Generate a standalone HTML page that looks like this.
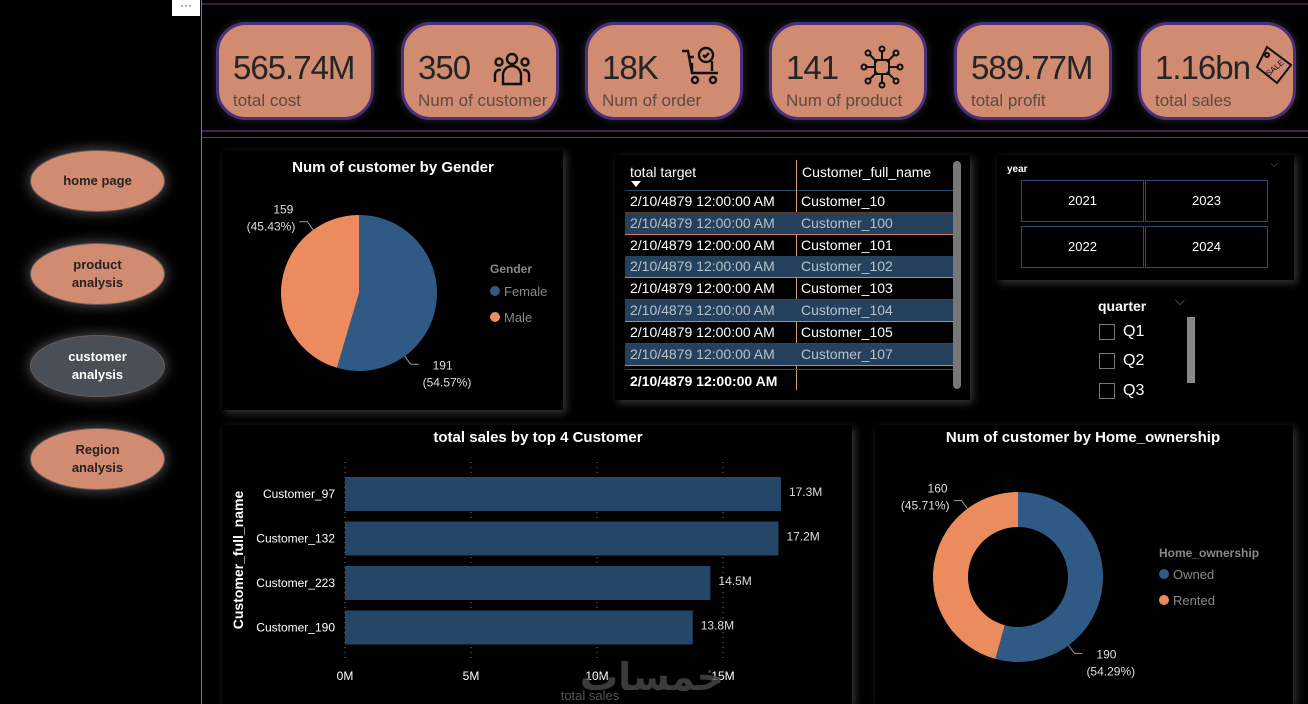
<!DOCTYPE html>
<html><head><meta charset="utf-8"><style>
body{margin:0;width:1308px;height:704px;background:#000;overflow:hidden;position:relative;font-family:"Liberation Sans",sans-serif;color:#fff}
.a{position:absolute}
.card{position:absolute;top:22px;width:152px;height:92px;background:#d08b71;border:3px solid #4a2f7a;border-radius:30px;box-shadow:0 0 8px rgba(120,120,140,.35)}
.card .v{position:absolute;left:14px;top:24px;font-size:33px;color:#252525;letter-spacing:-1px}
.card .l{position:absolute;left:14px;top:66px;font-size:17px;color:#5a4a44;white-space:nowrap}
.card svg{position:absolute}
.nav{position:absolute;left:30px;width:133px;height:60px;border-radius:50%;background:#d08b71;border:1px solid #6b5a55;box-shadow:0 0 14px rgba(200,200,210,.45);display:flex;align-items:center;justify-content:center;text-align:center;font-weight:bold;font-size:13px;color:#2a2020;line-height:18px}
.panel{position:absolute;background:#000;box-shadow:3px 3px 8px rgba(90,90,90,.6)}
.row{position:absolute;left:625px;width:328px;height:21px;font-size:14px;line-height:21px}
.row span{position:absolute}
.yb{position:absolute;width:121px;height:40px;border:1px solid #2c4a6b;font-size:13px;text-align:center;line-height:40px}
.cb{position:absolute;left:1099px;width:14px;height:14px;border:1px solid #777}
.q{position:absolute;left:1123px;font-size:16px}
</style></head><body>
<div class="a" style="left:172px;top:0;width:28px;height:16px;background:#fff;color:#333;font-size:12px;text-align:center;line-height:10px">···</div>
<div class="a" style="left:201px;top:0;width:1px;height:704px;background:#5d7fa8"></div>
<div class="a" style="left:202px;top:3px;width:1106px;height:2px;background:#3a1b4a"></div>
<div class="a" style="left:202px;top:130px;width:1106px;height:2px;background:#4a1b5a"></div>
<div class="a" style="left:202px;top:137px;width:1106px;height:1px;background:#2b4a6a"></div>

<div class="card" style="left:216px"><div class="v">565.74M</div><div class="l">total cost</div></div>
<div class="card" style="left:401px"><div class="v">350</div><div class="l">Num of customer</div>
<svg style="left:88px;top:26px" width="40" height="36" viewBox="0 0 40 36" fill="none" stroke="#111" stroke-width="2.4"><circle cx="20" cy="8" r="5"/><circle cx="7" cy="11" r="3.5"/><circle cx="33" cy="11" r="3.5"/><path d="M11 33V24a9 9 0 0 1 18 0v9z"/><path d="M3 31v-8a5 5 0 0 1 6-4M37 31v-8a5 5 0 0 0-6-4"/></svg></div>
<div class="card" style="left:585px"><div class="v">18K</div><div class="l">Num of order</div>
<svg style="left:92px;top:20px" width="42" height="42" viewBox="0 0 42 42" fill="none" stroke="#111" stroke-width="2.4"><path d="M2 6h6l4 22h26"/><path d="M10 12h4M12 18v10M32 16v10"/><circle cx="26" cy="10" r="7"/><path d="M23 10l2 2 4-4"/><circle cx="15" cy="35" r="3"/><circle cx="33" cy="35" r="3"/></svg></div>
<div class="card" style="left:769px"><div class="v">141</div><div class="l">Num of product</div>
<svg style="left:88px;top:20px" width="44" height="44" viewBox="0 0 44 44" fill="none" stroke="#111" stroke-width="2"><rect x="15" y="15" width="14" height="14"/><path d="M22 15V5M22 29v10M15 22H5M29 22h10M17 17l-8-8M27 17l8-8M17 27l-8 8M27 27l8 8"/><circle cx="22" cy="4" r="2.5"/><circle cx="22" cy="40" r="2.5"/><circle cx="4" cy="22" r="2.5"/><circle cx="40" cy="22" r="2.5"/><circle cx="8" cy="8" r="2.5"/><circle cx="36" cy="8" r="2.5"/><circle cx="8" cy="36" r="2.5"/><circle cx="36" cy="36" r="2.5"/></svg></div>
<div class="card" style="left:954px"><div class="v">589.77M</div><div class="l">total profit</div></div>
<div class="card" style="left:1138px"><div class="v">1.16bn</div><div class="l">total sales</div>
<svg style="left:114px;top:18px" width="40" height="44" viewBox="0 0 40 44" fill="none" stroke="#111" stroke-width="2"><path d="M12 4l24 18-14 18L2 24z"/><circle cx="12" cy="12" r="2"/><text x="10" y="29" font-size="8" fill="#111" stroke="none" transform="rotate(-40 18 26)" font-family="Liberation Sans">SALE</text></svg></div>

<div class="nav" style="top:150px">home page</div>
<div class="nav" style="top:243px">product<br>analysis</div>
<div class="nav" style="top:335px;background:#4a4f57;color:#fff">customer<br>analysis</div>
<div class="nav" style="top:428px">Region<br>analysis</div>

<div class="panel" style="left:222px;top:150px;width:341px;height:260px"></div>
<div class="panel" style="left:615px;top:155px;width:355px;height:245px"></div>
<div class="panel" style="left:997px;top:155px;width:297px;height:125px"></div>
<div class="panel" style="left:222px;top:425px;width:630px;height:279px"></div>
<div class="panel" style="left:875px;top:425px;width:418px;height:279px"></div>

<div class="a" style="left:630px;top:164px;font-size:14px">total target</div>
<div class="a" style="left:631px;top:181px;width:0;height:0;border-left:5px solid transparent;border-right:5px solid transparent;border-top:6px solid #fff"></div>
<div class="a" style="left:802px;top:164px;font-size:14px">Customer_full_name</div>
<div class="a" style="left:625px;top:190px;width:328px;height:1px;background:#2c4a6b"></div>
<div class="a" style="left:796px;top:160px;width:1px;height:230px;background:#d0a070"></div>
<div id="rows"></div>
<div class="a" style="left:625px;top:369px;width:328px;height:1px;background:#2c4a6b"></div>
<div class="a" style="left:630px;top:373px;font-size:14px;font-weight:bold">2/10/4879 12:00:00 AM</div>
<div class="a" style="left:953px;top:161px;width:8px;height:228px;background:#777;border-radius:4px"></div>

<div class="a" style="left:1007px;top:164px;font-size:10px;font-weight:bold">year</div>
<div class="a" style="left:1270px;top:158px;font-size:11px;color:#666">⌵</div>
<div class="yb" style="left:1021px;top:180px">2021</div>
<div class="yb" style="left:1145px;top:180px">2023</div>
<div class="yb" style="left:1021px;top:226px">2022</div>
<div class="yb" style="left:1145px;top:226px">2024</div>

<div class="a" style="left:1098px;top:298px;font-size:14px;font-weight:bold">quarter</div>
<div class="a" style="left:1175px;top:293px;font-size:13px;color:#777">⌵</div>
<div class="cb" style="top:324px"></div><div class="q" style="top:323px">Q1</div>
<div class="cb" style="top:353px"></div><div class="q" style="top:352px">Q2</div>
<div class="cb" style="top:383px"></div><div class="q" style="top:382px">Q3</div>
<div class="a" style="left:1187px;top:317px;width:8px;height:66px;background:#888"></div>

<svg id="charts" class="a" style="left:0;top:0" width="1308" height="704" font-family="Liberation Sans, sans-serif"></svg>

<script>
const rowNames=["Customer_10","Customer_100","Customer_101","Customer_102","Customer_103","Customer_104","Customer_105","Customer_107"];
const rowTarget="2/10/4879 12:00:00 AM";
const genderCats=["Female","Male"];
const genderVals=[191,159];
const genderPct=["54.57%","45.43%"];
const barCats=["Customer_97","Customer_132","Customer_223","Customer_190"];
const barVals=[17.3,17.2,14.5,13.8];
const barLabels=["17.3M","17.2M","14.5M","13.8M"];
const xTicks=[0,5,10,15];
const xTickLabels=["0M","5M","10M","15M"];
const homeCats=["Owned","Rented"];
const homeVals=[190,160];
const homePct=["54.29%","45.71%"];

const rows=document.getElementById('rows');
rowNames.forEach((n,i)=>{
  const d=document.createElement('div');
  
  
  d.className='row';
  d.style.top=(191+i*21.8)+'px';
  if(i%2==1){d.style.background='#25415e';d.style.color='#b8c0c8';}
  d.style.borderBottom='1px solid '+(i%2==1?'#d08060':'#5a3a30');
  d.innerHTML='<span style="left:5px">'+rowTarget+'</span><span style="left:176px">'+n+'</span>';
  rows.appendChild(d);
});

const svg=document.getElementById('charts');
const NS='http://www.w3.org/2000/svg';
function el(t,a,txt){const e=document.createElementNS(NS,t);for(const k in a)e.setAttribute(k,a[k]);if(txt!==undefined)e.textContent=txt;svg.appendChild(e);return e;}
const colors=["#2f5a85","#ec8b5e"];

function arcPath(cx,cy,r,ri,a0,a1){
  const p=(rr,a)=>[cx+rr*Math.sin(a),cy-rr*Math.cos(a)];
  const lg=(a1-a0)>Math.PI?1:0;
  const [x0,y0]=p(r,a0),[x1,y1]=p(r,a1);
  if(!ri) return `M${cx},${cy}L${x0},${y0}A${r},${r} 0 ${lg} 1 ${x1},${y1}Z`;
  const [x2,y2]=p(ri,a1),[x3,y3]=p(ri,a0);
  return `M${x0},${y0}A${r},${r} 0 ${lg} 1 ${x1},${y1}L${x2},${y2}A${ri},${ri} 0 ${lg} 0 ${x3},${y3}Z`;
}
function pie(cx,cy,r,ri,vals,pcts,names,kind){
  const tot=vals.reduce((a,b)=>a+b,0);let a=0;
  vals.forEach((v,i)=>{
    const a1=a+v/tot*2*Math.PI;
    const s=el('path',{d:arcPath(cx,cy,r,ri,a,a1),fill:colors[i]});
    
    
    const m=(a+a1)/2+0.8;
    const sx=cx+r*Math.sin(m),sy=cy-r*Math.cos(m);
    const ex=cx+(r+10)*Math.sin(m),ey=cy-(r+10)*Math.cos(m);
    const side=Math.sin(m)>=0?1:-1;
    const lx=ex+side*8,ly=ey;
    el('polyline',{points:`${sx},${sy} ${ex},${ey} ${lx},${ly}`,fill:'none',stroke:'#999','stroke-width':1});
    const tx=side>0?lx+4:lx-4;
    const up=side<0;
    const y1=up?ly-8:ly+5, y2=y1+17;
    const t1=el('text',{x:side>0?tx+20:tx-12,y:y1,'font-size':12,fill:'#ddd','text-anchor':'middle'},String(v));
    
    
    const t2=el('text',{x:side>0?tx:tx,y:y2,'font-size':12,fill:'#ddd','text-anchor':side>0?'start':'end'},'('+pcts[i]+')');
    
    
    a=a1;
  });
}
let t=el('text',{x:393,y:172,'font-size':15,'font-weight':'bold',fill:'#fff','text-anchor':'middle'},'Num of customer by Gender');

pie(359,293,78,0,genderVals,genderPct,genderCats,'gender');
t=el('text',{x:490,y:273,'font-size':12,'font-weight':'bold',fill:'#888'},'Gender');

genderCats.forEach((c,i)=>{
  const y=291+i*26;
  const d=el('circle',{cx:495,cy:y,r:5,fill:colors[i]});
  
  const tt=el('text',{x:504,y:y+5,'font-size':13,fill:'#888'},c);
  
});

t=el('text',{x:538,y:442,'font-size':15,'font-weight':'bold',fill:'#fff','text-anchor':'middle'},'total sales by top 4 Customer');

const x0=345,kx=25.2;
const xs=v=>x0+v*kx;
xTicks.forEach((v,i)=>{
  const g=el('line',{x1:xs(v),x2:xs(v),y1:462,y2:660,stroke:'#777','stroke-dasharray':'1,4'});
  
  const tl=el('text',{x:xs(v),y:680,'font-size':12,fill:'#fff','text-anchor':'middle'},xTickLabels[i]);
  
});
const by0=477,step=44.5,bh=34;
barCats.forEach((c,i)=>{
  const y=by0+i*step;
  const r=el('rect',{x:x0,y:y,width:xs(barVals[i])-x0,height:bh,fill:'#264667'});
  
  const l=el('text',{x:335,y:y+bh/2+4,'font-size':12,fill:'#fff','text-anchor':'end'},c);
  
  const v=el('text',{x:xs(barVals[i])+8,y:y+bh/2+2,'font-size':12,fill:'#ddd'},barLabels[i]);
  
});
t=el('text',{x:243,y:560,'font-size':14,'font-weight':'bold',fill:'#fff','text-anchor':'middle',transform:'rotate(-90 243 560)'},'Customer_full_name');

t=el('text',{x:590,y:700,'font-size':13,fill:'#555','text-anchor':'middle'},'total sales');

t=el('text',{x:652,y:690,'font-size':38,'font-weight':'bold',fill:'#4a4a4a','text-anchor':'middle',opacity:.8,'font-family':'DejaVu Sans, sans-serif'},'خمسات');


t=el('text',{x:1083,y:442,'font-size':15,'font-weight':'bold',fill:'#fff','text-anchor':'middle'},'Num of customer by Home_ownership');

pie(1018,577,85,50,homeVals,homePct,homeCats,'home');
t=el('text',{x:1159,y:557,'font-size':12,'font-weight':'bold',fill:'#888'},'Home_ownership');

homeCats.forEach((c,i)=>{
  const y=574+i*26;
  const d=el('circle',{cx:1164,cy:y,r:5,fill:colors[i]});
  
  const tt=el('text',{x:1173,y:y+5,'font-size':13,fill:'#888'},c);
  
});
</script>
</body></html>
